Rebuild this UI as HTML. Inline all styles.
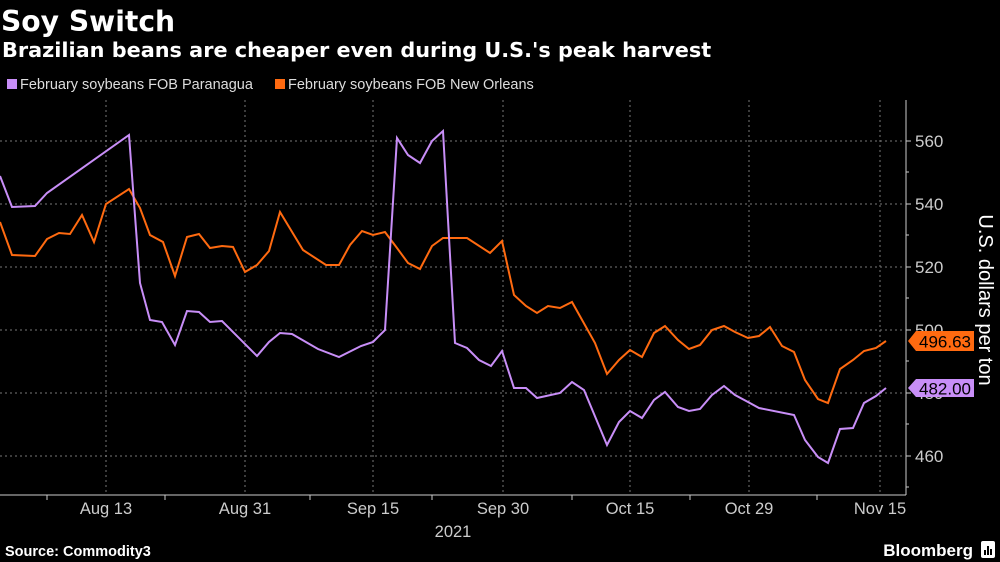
<!DOCTYPE html>
<html><head><meta charset="utf-8"><style>
html,body{margin:0;padding:0;background:#000;width:1000px;height:562px;overflow:hidden;font-family:"Liberation Sans",sans-serif;}
</style></head><body>
<svg width="1000" height="562" viewBox="0 0 1000 562" xmlns="http://www.w3.org/2000/svg" font-family="Liberation Sans, sans-serif">
<rect width="1000" height="562" fill="#000"/>
<text x="1" y="31" fill="#fff" font-size="28.2" font-weight="bold" font-family="DejaVu Sans, sans-serif">Soy Switch</text>
<text x="2" y="57" fill="#fff" font-size="20.8" font-weight="bold" font-family="DejaVu Sans, sans-serif">Brazilian beans are cheaper even during U.S.'s peak harvest</text>
<rect x="7" y="79" width="10" height="10" fill="#c88ef7"/>
<text x="20" y="89" fill="#ddd" font-size="14.5">February soybeans FOB Paranagua</text>
<rect x="275" y="79" width="10" height="10" fill="#ff6a10"/>
<text x="288" y="89" fill="#ddd" font-size="14.5">February soybeans FOB New Orleans</text>
<g stroke="#777" stroke-width="1" stroke-dasharray="2,3">
<line x1="0" y1="141" x2="905" y2="141"/><line x1="0" y1="204" x2="905" y2="204"/><line x1="0" y1="267" x2="905" y2="267"/><line x1="0" y1="330" x2="905" y2="330"/><line x1="0" y1="393" x2="905" y2="393"/><line x1="0" y1="456" x2="905" y2="456"/>
<line x1="106" y1="100" x2="106" y2="495"/><line x1="245" y1="100" x2="245" y2="495"/><line x1="373" y1="100" x2="373" y2="495"/><line x1="503" y1="100" x2="503" y2="495"/><line x1="630" y1="100" x2="630" y2="495"/><line x1="749" y1="100" x2="749" y2="495"/><line x1="880" y1="100" x2="880" y2="495"/>
</g>
<g stroke="#ccc" stroke-width="1">
<line x1="906" y1="100" x2="906" y2="495"/><line x1="0" y1="495" x2="906" y2="495"/>
<line x1="906" y1="141" x2="911" y2="141"/><line x1="906" y1="204" x2="911" y2="204"/><line x1="906" y1="267" x2="911" y2="267"/><line x1="906" y1="330" x2="911" y2="330"/><line x1="906" y1="393" x2="911" y2="393"/><line x1="906" y1="456" x2="911" y2="456"/>
<line x1="906" y1="172" x2="909" y2="172"/><line x1="906" y1="235" x2="909" y2="235"/><line x1="906" y1="298" x2="909" y2="298"/><line x1="906" y1="361" x2="909" y2="361"/><line x1="906" y1="424" x2="909" y2="424"/><line x1="906" y1="487" x2="909" y2="487"/>
<line x1="47" y1="495" x2="47" y2="500"/><line x1="165" y1="495" x2="165" y2="500"/><line x1="310" y1="495" x2="310" y2="500"/><line x1="432" y1="495" x2="432" y2="500"/><line x1="572" y1="495" x2="572" y2="500"/><line x1="690" y1="495" x2="690" y2="500"/><line x1="817" y1="495" x2="817" y2="500"/>
</g>
<g fill="#ccc" font-size="17">
<text x="915" y="147">560</text><text x="915" y="210">540</text><text x="915" y="273">520</text><text x="915" y="336">500</text><text x="915" y="399">480</text><text x="915" y="462">460</text>
</g>
<g fill="#ccc" font-size="16.5" text-anchor="middle">
<text x="106" y="514">Aug 13</text><text x="245" y="514">Aug 31</text><text x="373" y="514">Sep 15</text><text x="503" y="514">Sep 30</text><text x="630" y="514">Oct 15</text><text x="749" y="514">Oct 29</text><text x="880" y="514">Nov 15</text>
<text x="453" y="537">2021</text>
</g>
<text transform="translate(979,300) rotate(90)" fill="#fff" font-size="20" text-anchor="middle">U.S. dollars per ton</text>
<polyline fill="none" stroke="#ff6a10" stroke-width="2" points="0,222 12,255 35,256 47,239 59,233 70,234 82,215 94,242 106,204 129,189 140,208 150,235 163,242 175,276 187,237 199,234 210,248 222,246 233,247 245,272 257,265 269,251 280,212 303,250 326,265 339,265 350,245 362,231 373,235 385,232 397,248 408,263 420,269 432,246 443,238 454,238 467,238 490,253 502,241 514,295 526,306 537,313 548,306 560,308 572,302 595,343 607,374 619,360 630,350 642,357 654,333 665,326 678,340 689,349 700,345 712,330 724,326 735,332 748,338 759,336 770,327 782,346 794,352 805,380 818,399 828,403 840,369 853,360 864,351 876,348 886,341"/>
<polyline fill="none" stroke="#c88ef7" stroke-width="2" points="0,176 12,207 35,206 47,193 129,135 140,283 150,320 162,322 175,345 187,311 199,312 210,322 222,321 257,356 269,342 280,333 292,334 318,349 339,357 361,346 373,342 385,330 397,138 408,155 420,163 432,141 443,131 448,220 455,343 467,348 479,360 491,366 502,351 514,388 526,388 537,398 560,393 572,382 584,390 607,445 619,422 630,411 642,418 654,400 665,392 678,407 689,411 700,409 712,395 724,386 735,395 748,402 759,408 794,415 805,440 818,457 828,463 840,429 853,428 864,403 876,396 886,388"/>
<polygon points="908,341 916,331 974,331 974,351 916,351" fill="#ff6a10"/>
<text x="945" y="347.5" fill="#000" font-size="17" text-anchor="middle">496.63</text>
<polygon points="908,388 916,379 974,379 974,397 916,397" fill="#c88ef7"/>
<text x="945" y="394.5" fill="#000" font-size="17" text-anchor="middle">482.00</text>
<text x="5" y="556" fill="#fff" font-size="14.5" font-weight="bold">Source: Commodity3</text>
<text x="973" y="556" fill="#fff" font-size="17" font-weight="bold" text-anchor="end">Bloomberg</text>
<rect x="981" y="541" width="14" height="17" rx="2" fill="#fff"/>
<rect x="984" y="550" width="2" height="5" fill="#000"/><rect x="987" y="546" width="2" height="9" fill="#000"/><rect x="990" y="549" width="2" height="6" fill="#000"/>
</svg>
</body></html>
